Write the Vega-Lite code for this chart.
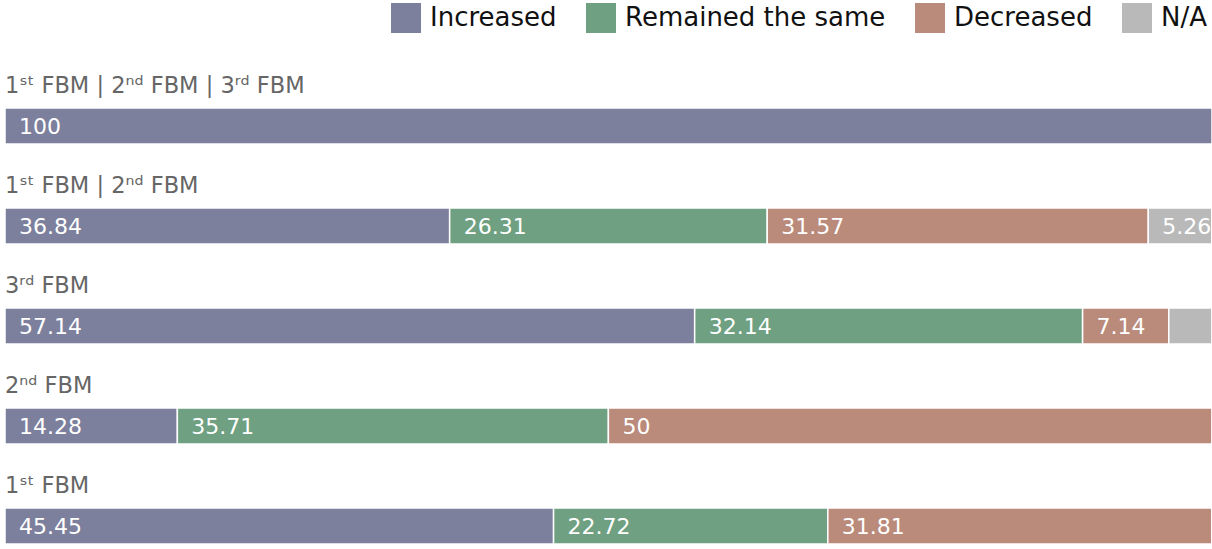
{
  "$schema": "https://vega.github.io/schema/vega-lite/v6.json",
  "width": 1207,
  "height": 500,
  "autosize": {"type": "none"},
  "padding": {"left": 5, "top": 49, "right": 0, "bottom": 0},
  "config": {"view": {"stroke": null}, "font": "DejaVu Sans"},
  "data": {
    "values": [
      {"row": "1ˢᵗ FBM | 2ⁿᵈ FBM | 3ʳᵈ FBM", "cat": "Increased", "order": 1, "value": 100},
      {"row": "1ˢᵗ FBM | 2ⁿᵈ FBM", "cat": "Increased", "order": 1, "value": 36.84},
      {"row": "1ˢᵗ FBM | 2ⁿᵈ FBM", "cat": "Remained the same", "order": 2, "value": 26.31},
      {"row": "1ˢᵗ FBM | 2ⁿᵈ FBM", "cat": "Decreased", "order": 3, "value": 31.57},
      {"row": "1ˢᵗ FBM | 2ⁿᵈ FBM", "cat": "N/A", "order": 4, "value": 5.26},
      {"row": "3ʳᵈ FBM", "cat": "Increased", "order": 1, "value": 57.14},
      {"row": "3ʳᵈ FBM", "cat": "Remained the same", "order": 2, "value": 32.14},
      {"row": "3ʳᵈ FBM", "cat": "Decreased", "order": 3, "value": 7.14},
      {"row": "3ʳᵈ FBM", "cat": "N/A", "order": 4, "value": 3.57},
      {"row": "2ⁿᵈ FBM", "cat": "Increased", "order": 1, "value": 14.28},
      {"row": "2ⁿᵈ FBM", "cat": "Remained the same", "order": 2, "value": 35.71},
      {"row": "2ⁿᵈ FBM", "cat": "Decreased", "order": 3, "value": 50},
      {"row": "1ˢᵗ FBM", "cat": "Increased", "order": 1, "value": 45.45},
      {"row": "1ˢᵗ FBM", "cat": "Remained the same", "order": 2, "value": 22.72},
      {"row": "1ˢᵗ FBM", "cat": "Decreased", "order": 3, "value": 31.81}
    ]
  },
  "transform": [
    {"stack": "value", "groupby": ["row"], "sort": [{"field": "order"}], "as": ["v0", "v1"]}
  ],
  "encoding": {
    "y": {
      "field": "row",
      "type": "nominal",
      "sort": ["1ˢᵗ FBM | 2ⁿᵈ FBM | 3ʳᵈ FBM", "1ˢᵗ FBM | 2ⁿᵈ FBM", "3ʳᵈ FBM", "2ⁿᵈ FBM", "1ˢᵗ FBM"],
      "axis": null,
      "scale": {"paddingInner": 0, "paddingOuter": 0}
    }
  },
  "layer": [
    {
      "mark": {"type": "bar", "height": 36, "yOffset": 27, "stroke": "white", "strokeWidth": 1.5},
      "encoding": {
        "x": {"field": "v0", "type": "quantitative", "axis": null, "scale": {"domain": [0, 100], "nice": false, "zero": true}},
        "x2": {"field": "v1"},
        "color": {
          "field": "cat",
          "type": "nominal",
          "sort": ["Increased", "Remained the same", "Decreased", "N/A"],
          "scale": {
            "domain": ["Increased", "Remained the same", "Decreased", "N/A"],
            "range": ["#7c809d", "#6ea081", "#ba8a7b", "#bab9ba"]
          },
          "legend": {
            "title": null,
            "orient": "none",
            "direction": "horizontal",
            "legendX": 386,
            "legendY": -46,
            "symbolType": "square",
            "symbolSize": 900,
            "symbolStrokeWidth": 0,
            "labelFont": "DejaVu Sans",
            "labelFontSize": 26,
            "labelColor": "#111111",
            "labelOffset": 9,
            "columnPadding": 29,
            "labelLimit": 400
          }
        }
      }
    },
    {
      "transform": [{"filter": "datum.value >= 5"}],
      "mark": {"type": "text", "align": "left", "baseline": "middle", "dx": 14, "yOffset": 28, "fontSize": 22, "color": "white"},
      "encoding": {
        "x": {"field": "v0", "type": "quantitative"},
        "text": {"field": "value", "type": "nominal"}
      }
    },
    {
      "transform": [{"filter": "datum.order == 1"}],
      "mark": {"type": "text", "align": "left", "baseline": "middle", "yOffset": -13, "fontSize": 22.5, "color": "#666666"},
      "encoding": {
        "x": {"datum": 0, "type": "quantitative"},
        "text": {"field": "row", "type": "nominal"}
      }
    }
  ]
}
